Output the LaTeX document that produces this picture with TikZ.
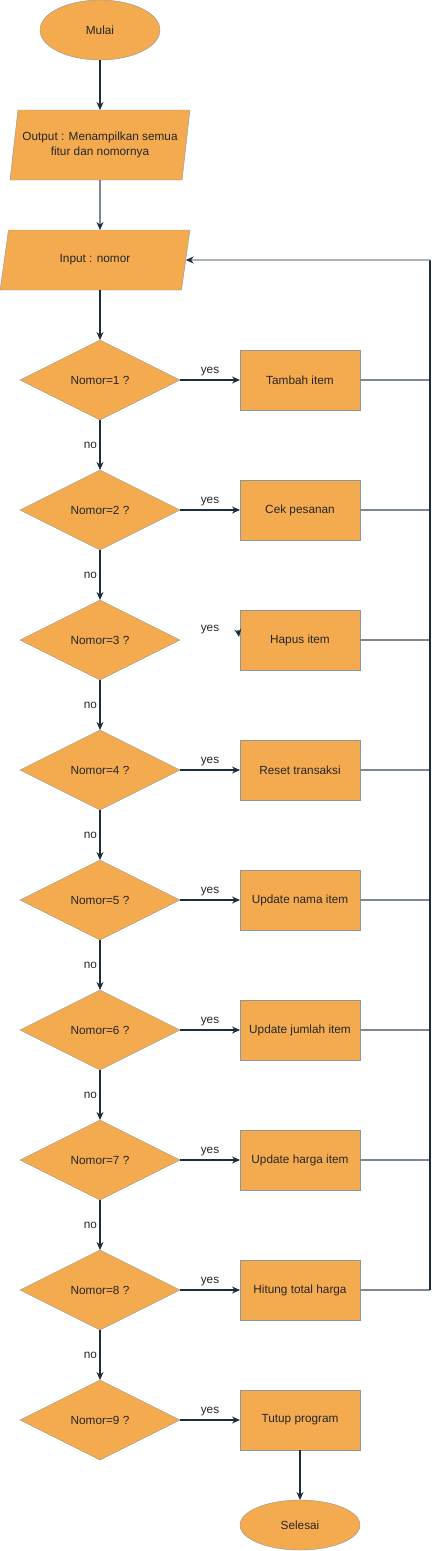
\documentclass[tikz,border=0pt]{standalone}
\usepackage{fontspec}
\setmainfont{Liberation Sans}
\usetikzlibrary{shapes.geometric,arrows.meta}
\definecolor{boxfill}{HTML}{F4AB50}
\definecolor{boxline}{HTML}{8E959C}
\definecolor{flowline}{HTML}{1B2E3F}
\definecolor{backline}{HTML}{7C8995}
\definecolor{textcol}{HTML}{262626}
\tikzset{
  every node/.style={font=\fontsize{11.8}{15}\selectfont, text=textcol, inner sep=0pt, outer sep=0pt},
  terminal/.style={ellipse, draw=boxline, fill=boxfill, minimum width=120, minimum height=60},
  iobox/.style={trapezium, trapezium stretches=true, draw=boxline, fill=boxfill, align=center},
  decide/.style={diamond, draw=boxline, fill=boxfill, minimum width=160, minimum height=80},
  process/.style={rectangle, draw=boxline, fill=boxfill, minimum width=120, minimum height=60},
  flow/.style={draw=flowline, line width=1.1pt, -{Stealth[length=8pt,width=7pt]}},
  back/.style={draw=backline, line width=1.1pt},
  yeslabel/.style={above=4pt},
  nolabel/.style={left=3pt}
}
\begin{document}
\begin{tikzpicture}[x=1pt, y=-1pt]
\useasboundingbox (0,0) rectangle (439,1551);

\node[terminal] (mulai) at (100,30) {Mulai};
\node[iobox, trapezium left angle=74, trapezium right angle=106, minimum width=180, minimum height=70] (output) at (100,145) {Output : Menampilkan semua\\fitur dan nomornya};
\node[iobox, trapezium left angle=72, trapezium right angle=108, minimum width=190, minimum height=60] (input) at (95,260) {Input : nomor};

\node[decide] (d1) at (100,380) {Nomor=1 ?};
\node[decide] (d2) at (100,510) {Nomor=2 ?};
\node[decide] (d3) at (100,640) {Nomor=3 ?};
\node[decide] (d4) at (100,770) {Nomor=4 ?};
\node[decide] (d5) at (100,900) {Nomor=5 ?};
\node[decide] (d6) at (100,1030) {Nomor=6 ?};
\node[decide] (d7) at (100,1160) {Nomor=7 ?};
\node[decide] (d8) at (100,1290) {Nomor=8 ?};
\node[decide] (d9) at (100,1420) {Nomor=9 ?};

\node[process] (b1) at (300,380) {Tambah item};
\node[process] (b2) at (300,510) {Cek pesanan};
\node[process] (b3) at (300,640) {Hapus item};
\node[process] (b4) at (300,770) {Reset transaksi};
\node[process] (b5) at (300,900) {Update nama item};
\node[process] (b6) at (300,1030) {Update jumlah item};
\node[process] (b7) at (300,1160) {Update harga item};
\node[process] (b8) at (300,1290) {Hitung total harga};
\node[process] (b9) at (300,1420) {Tutup program};

\node[terminal, minimum height=50] (selesai) at (300,1525) {Selesai};

\coordinate (railtop) at (430,260);
\coordinate (railbot) at (430,1290);

% main flow
\draw[flow] (mulai) -- (mulai |- output.north);
\draw[flow, draw=backline, -{Stealth[length=8pt,width=7pt,color=flowline]}] (output.south -| output) -- (output |- input.north);
\draw[flow] (d1 |- input.south) -- (d1);

\draw[flow] (d1) -- node[nolabel] {no} (d2);
\draw[flow] (d2) -- node[nolabel] {no} (d3);
\draw[flow] (d3) -- node[nolabel] {no} (d4);
\draw[flow] (d4) -- node[nolabel] {no} (d5);
\draw[flow] (d5) -- node[nolabel] {no} (d6);
\draw[flow] (d6) -- node[nolabel] {no} (d7);
\draw[flow] (d7) -- node[nolabel] {no} (d8);
\draw[flow] (d8) -- node[nolabel] {no} (d9);

\draw[flow] (d1) -- node[yeslabel] {yes} (b1);
\draw[flow] (d2) -- node[yeslabel] {yes} (b2);
\node (yes3) at (210,630) {yes};
\draw[flow] ([shift={(-2,-10)}]b3.west) -- ([shift={(-1,-3)}]b3.west);
\draw[flow] (d4) -- node[yeslabel] {yes} (b4);
\draw[flow] (d5) -- node[yeslabel] {yes} (b5);
\draw[flow] (d6) -- node[yeslabel] {yes} (b6);
\draw[flow] (d7) -- node[yeslabel] {yes} (b7);
\draw[flow] (d8) -- node[yeslabel] {yes} (b8);
\draw[flow] (d9) -- node[yeslabel] {yes} (b9);
\draw[flow] (b9) -- (selesai);

% back to input
\draw[back] (b1) -- (b1 -| railtop);
\draw[back] (b2) -- (b2 -| railtop);
\draw[back] (b3) -- (b3 -| railtop);
\draw[back] (b4) -- (b4 -| railtop);
\draw[back] (b5) -- (b5 -| railtop);
\draw[back] (b6) -- (b6 -| railtop);
\draw[back] (b7) -- (b7 -| railtop);
\draw[back] (b8) -- (railbot);
\draw[draw=flowline, line width=1.1pt] (railbot) -- (railtop);
\draw[back, -{Stealth[length=8pt,width=7pt,color=flowline]}] (railtop) -- (input);
\end{tikzpicture}
\end{document}
